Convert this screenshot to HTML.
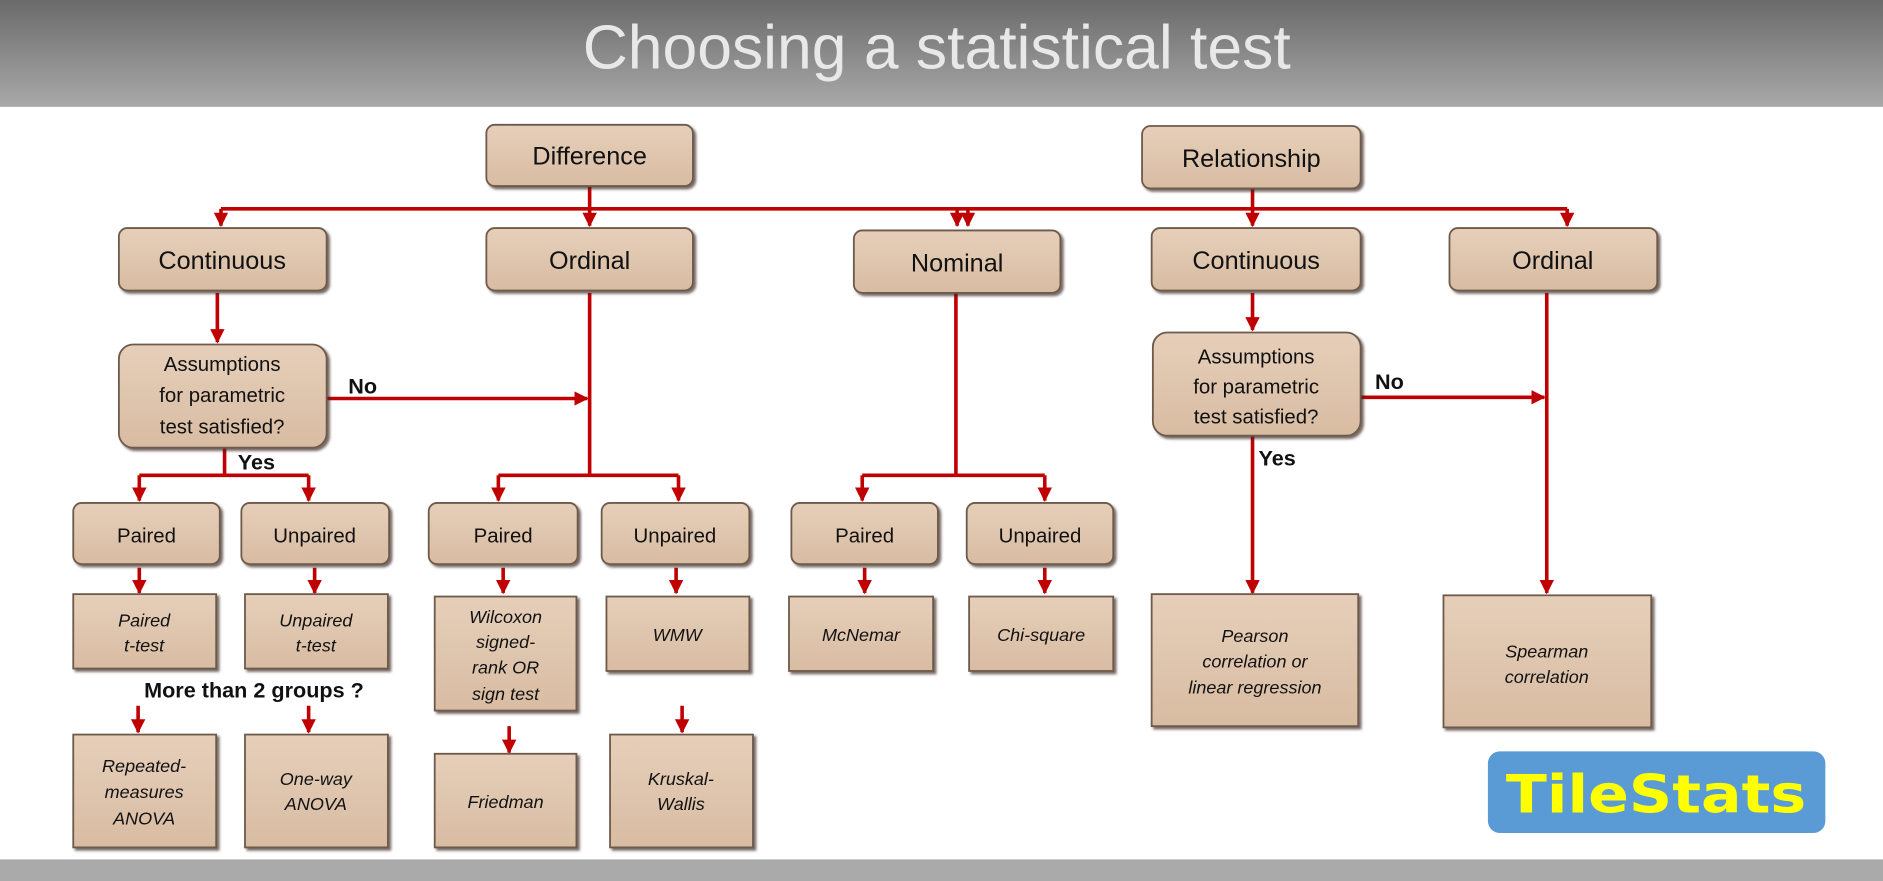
<!DOCTYPE html>
<html><head><meta charset="utf-8"><style>
html,body{margin:0;padding:0;background:#fff;}
svg{display:block}
</style></head><body>
<svg width="1883" height="881" viewBox="0 0 1568 734" preserveAspectRatio="none" xmlns="http://www.w3.org/2000/svg" font-family="Liberation Sans, sans-serif">
<defs>
<linearGradient id="hd" x1="0" y1="0" x2="0" y2="1"><stop offset="0" stop-color="#6a6a6a"/><stop offset="1" stop-color="#a9a9a9"/></linearGradient>
<linearGradient id="bx" x1="0" y1="0" x2="0" y2="1"><stop offset="0" stop-color="#e6cfba"/><stop offset="1" stop-color="#d8bca2"/></linearGradient>
<marker id="ar" viewBox="0 0 10 10" refX="9" refY="5" markerWidth="4" markerHeight="4" orient="auto"><path d="M0,0 L10,5 L0,10 z" fill="#c00000"/></marker>
<filter id="sh" x="-10%" y="-10%" width="120%" height="130%"><feDropShadow dx="2" dy="2" stdDeviation="1.2" flood-color="#3a2a20" flood-opacity="0.7"/></filter>
</defs>
<rect x="0" y="0" width="1568" height="89" fill="url(#hd)"/>
<text x="780" y="57" font-size="52" fill="#e8e8e8" text-anchor="middle">Choosing a statistical test</text>
<rect x="0" y="716" width="1568" height="18" fill="#aaaaaa"/>

<g stroke="#c00000" stroke-width="3" fill="none">
<path d="M491 155 V188" marker-end="url(#ar)"/>
<path d="M1043 157 V188" marker-end="url(#ar)"/>
<path d="M184 174 H1305"/>
<path d="M184 174 V188" marker-end="url(#ar)"/>
<path d="M797 174 V188" marker-end="url(#ar)"/>
<path d="M806 174 V188" marker-end="url(#ar)"/>
<path d="M1305 174 V188" marker-end="url(#ar)"/>
<path d="M181 244 V285" marker-end="url(#ar)"/>
<path d="M491 244 V396"/>
<path d="M272 332 H489" marker-end="url(#ar)"/>
<path d="M415 396 H565"/>
<path d="M415 396 V417" marker-end="url(#ar)"/>
<path d="M565 396 V417" marker-end="url(#ar)"/>
<path d="M187 373 V396"/>
<path d="M116 396 H257"/>
<path d="M116 396 V417" marker-end="url(#ar)"/>
<path d="M257 396 V417" marker-end="url(#ar)"/>
<path d="M796 244 V396"/>
<path d="M718 396 H870"/>
<path d="M718 396 V417" marker-end="url(#ar)"/>
<path d="M870 396 V417" marker-end="url(#ar)"/>
<path d="M116 473 V494" marker-end="url(#ar)"/>
<path d="M262 473 V494" marker-end="url(#ar)"/>
<path d="M419 473 V494" marker-end="url(#ar)"/>
<path d="M563 473 V494" marker-end="url(#ar)"/>
<path d="M720 473 V494" marker-end="url(#ar)"/>
<path d="M870 473 V494" marker-end="url(#ar)"/>
<path d="M115 588 V610" marker-end="url(#ar)"/>
<path d="M257 588 V610" marker-end="url(#ar)"/>
<path d="M424 605 V627" marker-end="url(#ar)"/>
<path d="M568 588 V610" marker-end="url(#ar)"/>
<path d="M1043 244 V275" marker-end="url(#ar)"/>
<path d="M1133 331 H1286" marker-end="url(#ar)"/>
<path d="M1043 363 V494" marker-end="url(#ar)"/>
<path d="M1288 244 V494" marker-end="url(#ar)"/>
</g>

<g font-weight="bold" font-size="18" fill="#111">
<text x="290" y="328">No</text>
<text x="198" y="391">Yes</text>
<text x="1145" y="324">No</text>
<text x="1048" y="388">Yes</text>
<text x="120" y="581" font-size="18">More than 2 groups ?</text>
</g>

<g stroke="#6e5a4c" stroke-width="1.5" fill="url(#bx)" filter="url(#sh)">
<rect x="405" y="104" width="172" height="51" rx="7"/>
<rect x="951" y="105" width="182" height="52" rx="7"/>
<rect x="99" y="190" width="173" height="52" rx="7"/>
<rect x="405" y="190" width="172" height="52" rx="7"/>
<rect x="711" y="192" width="172" height="52" rx="7"/>
<rect x="959" y="190" width="174" height="52" rx="7"/>
<rect x="1207" y="190" width="173" height="52" rx="7"/>
<rect x="99" y="287" width="173" height="86" rx="12"/>
<rect x="960" y="277" width="173" height="86" rx="12"/>
<rect x="61" y="419" width="122" height="51" rx="7"/>
<rect x="201" y="419" width="123" height="51" rx="7"/>
<rect x="357" y="419" width="124" height="51" rx="7"/>
<rect x="501" y="419" width="123" height="51" rx="7"/>
<rect x="659" y="419" width="122" height="51" rx="7"/>
<rect x="805" y="419" width="122" height="51" rx="7"/>
<rect x="61" y="495" width="119" height="62"/>
<rect x="204" y="495" width="119" height="62"/>
<rect x="362" y="497" width="118" height="95"/>
<rect x="505" y="497" width="119" height="62"/>
<rect x="657" y="497" width="120" height="62"/>
<rect x="807" y="497" width="120" height="62"/>
<rect x="959" y="495" width="172" height="110"/>
<rect x="1202" y="496" width="173" height="110"/>
<rect x="61" y="612" width="119" height="94"/>
<rect x="204" y="612" width="119" height="94"/>
<rect x="362" y="628" width="118" height="78"/>
<rect x="508" y="612" width="119" height="94"/>
</g>

<g font-size="21" fill="#111" text-anchor="middle">
<text x="491" y="137">Difference</text>
<text x="1042" y="139">Relationship</text>
<text x="185" y="224">Continuous</text>
<text x="491" y="224">Ordinal</text>
<text x="797" y="226">Nominal</text>
<text x="1046" y="224">Continuous</text>
<text x="1293" y="224">Ordinal</text>
</g>
<g font-size="17" fill="#111" text-anchor="middle">
<text x="185" y="309">Assumptions</text>
<text x="185" y="335">for parametric</text>
<text x="185" y="361">test satisfied?</text>
<text x="1046" y="303">Assumptions</text>
<text x="1046" y="328">for parametric</text>
<text x="1046" y="353">test satisfied?</text>
<text x="122" y="452">Paired</text>
<text x="262" y="452">Unpaired</text>
<text x="419" y="452">Paired</text>
<text x="562" y="452">Unpaired</text>
<text x="720" y="452">Paired</text>
<text x="866" y="452">Unpaired</text>
</g>
<g font-size="15" font-style="italic" fill="#111" text-anchor="middle">
<text x="120" y="522">Paired</text><text x="120" y="543">t-test</text>
<text x="263" y="522">Unpaired</text><text x="263" y="543">t-test</text>
<text x="421" y="519">Wilcoxon</text><text x="421" y="540">signed-</text><text x="421" y="561">rank OR</text><text x="421" y="583">sign test</text>
<text x="564" y="534">WMW</text>
<text x="717" y="534">McNemar</text>
<text x="867" y="534">Chi-square</text>
<text x="1045" y="535">Pearson</text><text x="1045" y="556">correlation or</text><text x="1045" y="578">linear regression</text>
<text x="1288" y="548">Spearman</text><text x="1288" y="569">correlation</text>
<text x="120" y="643">Repeated-</text><text x="120" y="665">measures</text><text x="120" y="687">ANOVA</text>
<text x="263" y="654">One-way</text><text x="263" y="675">ANOVA</text>
<text x="421" y="673">Friedman</text>
<text x="567" y="654">Kruskal-</text><text x="567" y="675">Wallis</text>
</g>

<rect x="1239" y="626" width="281" height="68" rx="10" fill="#5b9bd5"/>
<text x="1379" y="677" font-size="44" font-weight="bold" fill="#ffff00" text-anchor="middle" font-family="DejaVu Sans, sans-serif" textLength="250" lengthAdjust="spacingAndGlyphs">TileStats</text>
</svg>
</body></html>
